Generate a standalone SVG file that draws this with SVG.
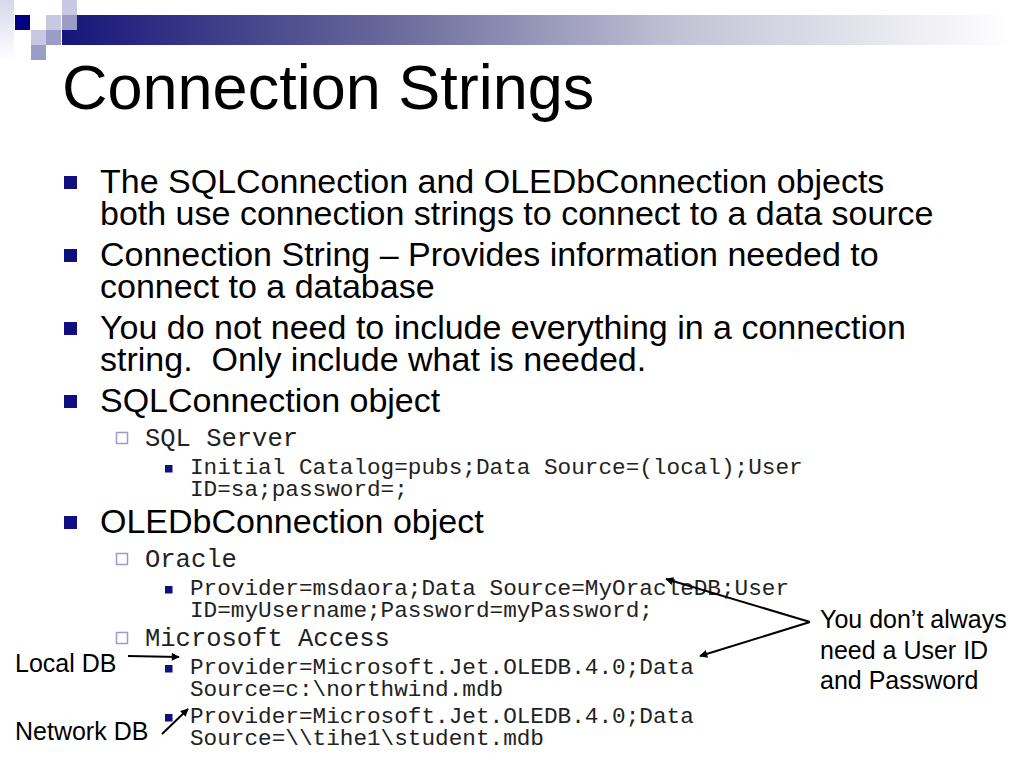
<svg xmlns="http://www.w3.org/2000/svg" width="1024" height="768" viewBox="0 0 1024 768">
  <defs>
    <linearGradient id="band" x1="62" y1="0" x2="1010" y2="0" gradientUnits="userSpaceOnUse">
      <stop offset="0" stop-color="#16167a"/>
      <stop offset="0.35" stop-color="#6a6a9c"/>
      <stop offset="0.65" stop-color="#c2c2d6"/>
      <stop offset="1" stop-color="#ffffff"/>
    </linearGradient>
    <linearGradient id="strip" x1="0" y1="0" x2="0" y2="1">
      <stop offset="0" stop-color="#d8d8ec"/>
      <stop offset="1" stop-color="#ffffff"/>
    </linearGradient>
    <marker id="arrow" viewBox="0 0 10 10" refX="9" refY="5" markerWidth="11" markerHeight="8" markerUnits="userSpaceOnUse" orient="auto">
      <path d="M0,0 L10,5 L0,10 z" fill="#000"/>
    </marker>
    <style>
      .title { font-family: "Liberation Sans", Arial, sans-serif; font-size: 63px; fill: #000; }
      .l1 { font-family: "Liberation Sans", Arial, sans-serif; font-size: 34px; fill: #000; white-space: pre; }
      .l2 { font-family: "Liberation Mono", "Courier New", monospace; font-size: 25.5px; fill: #222; }
      .l3 { font-family: "Liberation Mono", "Courier New", monospace; font-size: 22.7px; fill: #222; }
      .note { font-family: "Liberation Sans", Arial, sans-serif; font-size: 25px; fill: #000; }
      .b1 { fill: #0f0f7f; }
      .b2 { fill: #ffffff; stroke: #9a9acc; stroke-width: 1.5; }
      .b3 { fill: #0f0f7f; }
      .conn { stroke: #000; stroke-width: 2; fill: none; marker-end: url(#arrow); }
    </style>
  </defs>

  <rect width="1024" height="768" fill="#ffffff"/>

  <g id="decoration">
    <rect x="0" y="0" width="14" height="60" fill="url(#strip)"/>
    <rect x="62" y="15" width="962" height="30" fill="url(#band)"/>
    <rect x="62" y="0" width="15" height="15" fill="#c8c8e2"/>
    <rect x="15" y="15" width="15" height="15" fill="#000080"/>
    <rect x="46" y="15" width="15" height="15" fill="#c8c8e2"/>
    <rect x="62" y="15" width="15" height="15" fill="#9c9cc8"/>
    <rect x="31" y="30" width="15" height="15" fill="#c8c8e2"/>
    <rect x="46" y="30" width="15" height="15" fill="#9c9cc8"/>
    <rect x="31" y="45" width="15" height="15" fill="#9c9cc8"/>
  </g>

  <g id="title">
    <text class="title" x="62" y="109">Connection Strings</text>
  </g>

  <g id="bullet-1">
    <rect class="b1" x="64" y="176" width="13" height="13"/>
    <text class="l1" x="100" y="193">The SQLConnection and OLEDbConnection objects</text>
    <text class="l1" x="100" y="225">both use connection strings to connect to a data source</text>
  </g>
  <g id="bullet-2">
    <rect class="b1" x="64" y="249" width="13" height="13"/>
    <text class="l1" x="100" y="266">Connection String – Provides information needed to</text>
    <text class="l1" x="100" y="298">connect to a database</text>
  </g>
  <g id="bullet-3">
    <rect class="b1" x="64" y="322" width="13" height="13"/>
    <text class="l1" x="100" y="339">You do not need to include everything in a connection</text>
    <text class="l1" x="100" y="371">string.  Only include what is needed.</text>
  </g>
  <g id="bullet-4">
    <rect class="b1" x="64" y="395" width="13" height="13"/>
    <text class="l1" x="100" y="412">SQLConnection object</text>
  </g>
  <g id="sql-server">
    <rect class="b2" x="116.5" y="432.5" width="11" height="11"/>
    <text class="l2" x="145" y="446">SQL Server</text>
  </g>
  <g id="sql-string">
    <rect class="b3" x="165" y="465" width="7.5" height="7.5"/>
    <text class="l3" x="190" y="474">Initial Catalog=pubs;Data Source=(local);User</text>
    <text class="l3" x="190" y="496">ID=sa;password=;</text>
  </g>
  <g id="bullet-5">
    <rect class="b1" x="64" y="516" width="13" height="13"/>
    <text class="l1" x="100" y="533">OLEDbConnection object</text>
  </g>
  <g id="oracle">
    <rect class="b2" x="116.5" y="553.5" width="11" height="11"/>
    <text class="l2" x="145" y="567">Oracle</text>
  </g>
  <g id="oracle-string">
    <rect class="b3" x="165" y="586" width="7.5" height="7.5"/>
    <text class="l3" x="190" y="595">Provider=msdaora;Data Source=MyOracleDB;User</text>
    <text class="l3" x="190" y="617">ID=myUsername;Password=myPassword;</text>
  </g>
  <g id="access">
    <rect class="b2" x="116.5" y="632.5" width="11" height="11"/>
    <text class="l2" x="145" y="646">Microsoft Access</text>
  </g>
  <g id="access-local">
    <rect class="b3" x="165" y="665" width="7.5" height="7.5"/>
    <text class="l3" x="190" y="674">Provider=Microsoft.Jet.OLEDB.4.0;Data</text>
    <text class="l3" x="190" y="696">Source=c:\northwind.mdb</text>
  </g>
  <g id="access-network">
    <rect class="b3" x="165" y="714" width="7.5" height="7.5"/>
    <text class="l3" x="190" y="723">Provider=Microsoft.Jet.OLEDB.4.0;Data</text>
    <text class="l3" x="190" y="745">Source=\\tihe1\student.mdb</text>
  </g>

  <g id="label-local">
    <text class="note" x="15" y="672">Local DB</text>
  </g>
  <g id="label-network">
    <text class="note" x="15" y="740">Network DB</text>
  </g>
  <g id="note-userid">
    <text class="note" x="820" y="628">You don’t always</text>
    <text class="note" x="820" y="659">need a User ID</text>
    <text class="note" x="820" y="689">and Password</text>
  </g>

  <g id="connectors">
    <line class="conn" x1="128" y1="656" x2="179" y2="657"/>
    <line class="conn" x1="162" y1="734" x2="188" y2="709"/>
    <line class="conn" x1="810" y1="622" x2="666" y2="579"/>
    <line class="conn" x1="810" y1="622" x2="700" y2="656"/>
  </g>
</svg>
